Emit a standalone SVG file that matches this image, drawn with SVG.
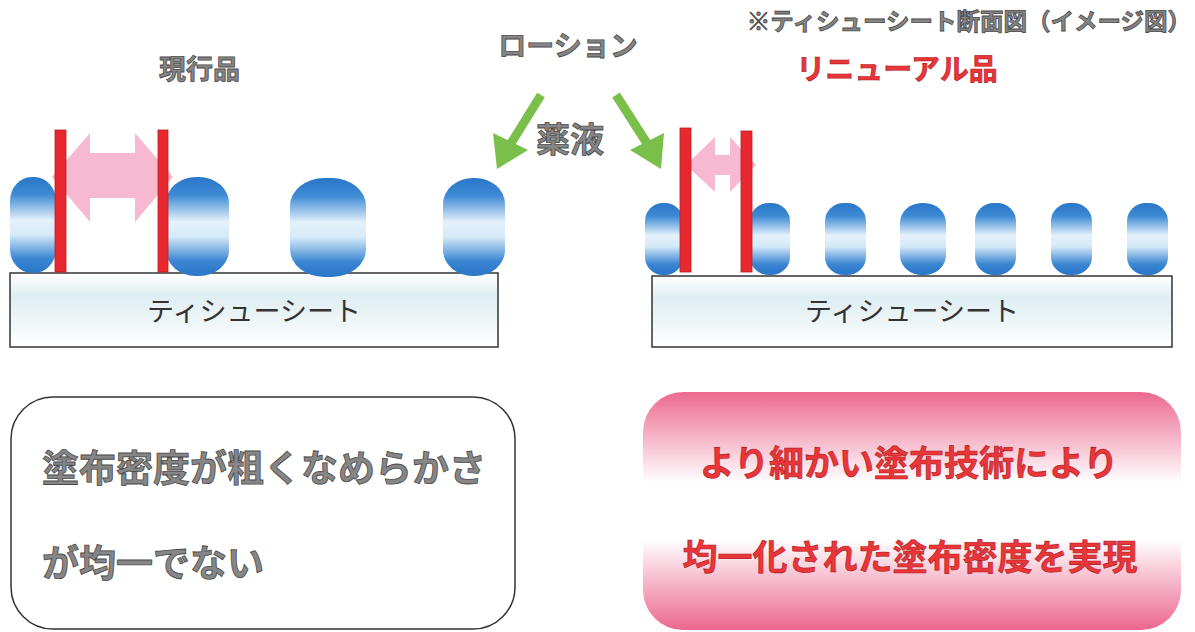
<svg xmlns="http://www.w3.org/2000/svg" width="1195" height="632" viewBox="0 0 1195 632">
<defs>
<linearGradient id="blob" x1="0" y1="0" x2="0" y2="1">
<stop offset="0" stop-color="#2a76c8"/>
<stop offset="0.18" stop-color="#3d8ad4"/>
<stop offset="0.45" stop-color="#e4f1fb"/>
<stop offset="0.6" stop-color="#d6eaf8"/>
<stop offset="0.85" stop-color="#3a86d2"/>
<stop offset="1" stop-color="#2a76c8"/>
</linearGradient>
<linearGradient id="sheet" x1="0" y1="0" x2="0" y2="1">
<stop offset="0" stop-color="#ffffff"/>
<stop offset="0.3" stop-color="#dfeef3"/>
<stop offset="0.55" stop-color="#e9f3f5"/>
<stop offset="1" stop-color="#ffffff"/>
</linearGradient>
<linearGradient id="pinkbox" x1="0" y1="0" x2="0" y2="1">
<stop offset="0" stop-color="#ec6a90"/>
<stop offset="0.38" stop-color="#ffffff"/>
<stop offset="0.62" stop-color="#ffffff"/>
<stop offset="1" stop-color="#ec668e"/>
</linearGradient>
<style>
.jp{font-family:"Noto Sans CJK JP","Noto Sans CJK SC",sans-serif;}
.gray{fill:#868686;stroke:#4a4a4a;stroke-width:0.8;font-weight:bold;}
.red{fill:#e8363a;stroke:#b01a20;stroke-width:0.6;font-weight:bold;}
.blob{fill:url(#blob);}
.bar{fill:#e8282e;stroke:#b81e22;stroke-width:0.8;}
.sheet{fill:url(#sheet);stroke:#333;stroke-width:1.5;}
.pink{fill:#f7b8d2;}
.green{stroke:#79bf4a;stroke-width:9;fill:none;}
</style>
</defs>

<g id="title-note">
<text class="jp gray" x="1191" y="30" font-size="23.5" text-anchor="end">※ティシューシート断面図（イメージ図）</text>
</g>
<g id="label-current"><text class="jp gray" x="159" y="79" font-size="27">現行品</text></g>
<g id="label-renewal"><text class="jp red" x="897" y="80" font-size="29" text-anchor="middle">リニューアル品</text></g>
<g id="lotion"><text class="jp gray" x="568" y="56" font-size="28" text-anchor="middle">ローション</text></g>
<g id="chemical"><text class="jp gray" x="570" y="152" font-size="34" text-anchor="middle">薬液</text></g>

<g id="connectors">
<line class="green" x1="541" y1="95" x2="510" y2="145"/>
<polygon points="497,169 493,133 528,150" fill="#79bf4a"/>
<line class="green" x1="616" y1="95" x2="648" y2="145"/>
<polygon points="661,169 630,150 664,133" fill="#79bf4a"/>
</g>

<g id="left-panel">
<rect class="sheet" x="10" y="273" width="488" height="74"/>
<text class="jp" x="254" y="321" font-size="27" text-anchor="middle" fill="#333">ティシューシート</text>
<rect class="blob" x="10" y="177" width="46" height="96" rx="22" ry="24"/>
<rect class="blob" x="166" y="177" width="63" height="99" rx="30" ry="26"/>
<rect class="blob" x="290" y="178" width="76" height="99" rx="34" ry="28"/>
<rect class="blob" x="443" y="178" width="62" height="98" rx="30" ry="26"/>
<polygon class="pink" points="52,177 90,133 90,153 135,153 135,133 173,177 135,222 135,198 90,198 90,222"/>
<rect class="bar" x="55" y="130" width="11" height="142"/>
<rect class="bar" x="158" y="130" width="10" height="142"/>
</g>

<g id="right-panel">
<rect class="sheet" x="652" y="276" width="520" height="71"/>
<text class="jp" x="912" y="321" font-size="27" text-anchor="middle" fill="#333">ティシューシート</text>
<rect class="blob" x="645" y="203" width="38" height="72" rx="18" ry="18"/>
<rect class="blob" x="750" y="203" width="40" height="72" rx="19" ry="18"/>
<rect class="blob" x="825" y="203" width="41" height="72" rx="19" ry="18"/>
<rect class="blob" x="900" y="203" width="46" height="72" rx="22" ry="20"/>
<rect class="blob" x="975" y="203" width="41" height="72" rx="19" ry="18"/>
<rect class="blob" x="1051" y="203" width="41" height="72" rx="19" ry="18"/>
<rect class="blob" x="1127" y="203" width="41" height="72" rx="19" ry="18"/>
<polygon class="pink" points="686,165 715,137 715,155 730,155 730,137 756,165 730,192 730,175 715,175 715,192"/>
<rect class="bar" x="680" y="128" width="11" height="144"/>
<rect class="bar" x="741" y="131" width="11" height="141"/>
</g>

<g id="box-left">
<rect x="11" y="397" width="504" height="232" rx="42" ry="42" fill="#fff" stroke="#333" stroke-width="1.5"/>
<text class="jp gray" x="42" y="482" font-size="37">塗布密度が粗くなめらかさ</text>
<text class="jp gray" x="42" y="577" font-size="37">が均一でない</text>
</g>

<g id="box-right">
<rect x="643" y="392" width="538" height="238" rx="40" ry="40" fill="url(#pinkbox)"/>
<text class="jp red" x="909" y="476" font-size="35" text-anchor="middle">より細かい塗布技術により</text>
<text class="jp red" x="910" y="570" font-size="35" text-anchor="middle">均一化された塗布密度を実現</text>
</g>
</svg>
